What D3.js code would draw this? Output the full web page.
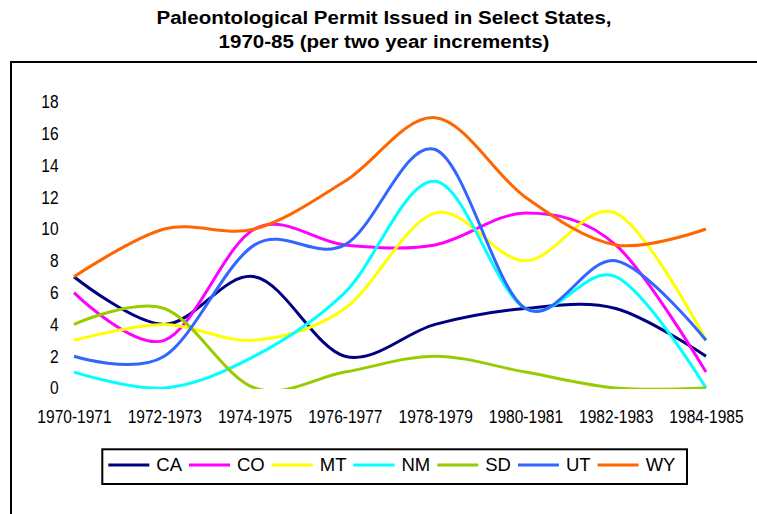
<!DOCTYPE html>
<html>
<head>
<meta charset="utf-8">
<script src="https://cdn.jsdelivr.net/npm/d3@7"></script>
<style>
  body { margin: 0; background: #fff; }
  svg { display: block; font-family: "Liberation Sans", Arial, sans-serif; }
</style>
</head>
<body>
<div id="chart"></div>
<script>
// Data
const periods = ["1970-1971", "1972-1973", "1974-1975", "1976-1977", "1978-1979", "1980-1981", "1982-1983", "1984-1985"];
const states = ["CA", "CO", "MT", "NM", "SD", "UT", "WY"];
const CA = [7, 4, 7, 2, 4, 5, 5, 2];
const CO = [6, 3, 10, 9, 9, 11, 9, 1];
const MT = [3, 4, 3, 5, 11, 8, 11, 3];
const NM = [1, 0, 2, 6, 13, 5, 7, 0];
const SD = [4, 5, 0, 1, 2, 1, 0, 0];
const UT = [2, 2, 9, 9, 15, 5, 8, 3];
const WY = [7, 10, 10, 13, 17, 12, 9, 10];
const yTicks = [0, 2, 4, 6, 8, 10, 12, 14, 16, 18];
const colors = ["#000080", "#FF00FF", "#FFFF00", "#00FFFF", "#99CC00", "#3366FF", "#FF6600"];

const seriesValues = [CA, CO, MT, NM, SD, UT, WY];
const series = states.map((s, i) => ({ name: s, color: colors[i], values: seriesValues[i] }));

const width = 757, height = 514;
const fontSize = 18.5;
const squeeze = "scale(0.84,1)"; // the digits in the picture are narrow

const svg = d3.select("#chart").append("svg")
    .attr("width", width)
    .attr("height", height);

// chart area frame (runs off the right and bottom edge)
svg.append("rect")
    .attr("x", 11).attr("y", 62)
    .attr("width", 800).attr("height", 500)
    .attr("fill", "#fff")
    .attr("stroke", "#000")
    .attr("stroke-width", 2);

// title, a little wider than the font gives
const title = svg.append("text")
    .attr("transform", "translate(384,0) scale(1.11,1)")
    .attr("text-anchor", "middle")
    .attr("font-weight", "bold")
    .attr("font-size", fontSize + "px");
title.append("tspan").attr("x", 0).attr("y", 24).text("Paleontological Permit Issued in Select States,");
title.append("tspan").attr("x", 0).attr("y", 48.3).text("1970-85 (per two year increments)");

const x = d3.scalePoint()
    .domain(periods)
    .range([74, 706]);

const y = d3.scaleLinear()
    .domain([0, 18])
    .range([388, 388 - 18 * 15.9]);

// axes without lines
const yAxis = svg.append("g")
    .attr("transform", "translate(62,0)")
    .call(d3.axisLeft(y).tickValues(yTicks).tickSize(0).tickPadding(4));

const xAxis = svg.append("g")
    .attr("transform", `translate(0,${y(0)})`)
    .call(d3.axisBottom(x).tickSize(0).tickPadding(21.6));

[yAxis, xAxis].forEach(ax => {
    ax.select(".domain").remove();
    ax.attr("font-family", null).attr("font-size", null);
    ax.selectAll("text")
        .attr("fill", "#000")
        .style("font-size", fontSize + "px")
        .attr("transform", squeeze);
});

// clip lines at the bottom of the plot area
svg.append("clipPath").attr("id", "plot-clip")
    .append("rect")
    .attr("x", 0).attr("y", 0)
    .attr("width", width).attr("height", y(0) + 1);

const line = d3.line()
    .x((d, i) => x(periods[i]))
    .y(d => y(d))
    .curve(d3.curveCardinal.tension(0));

svg.append("g")
    .attr("clip-path", "url(#plot-clip)")
    .selectAll("path")
    .data(series)
    .join("path")
    .attr("fill", "none")
    .attr("stroke", d => d.color)
    .attr("stroke-width", 3)
    .attr("stroke-linejoin", "round")
    .attr("d", d => line(d.values));

// legend
const legend = svg.append("g");
const legendBox = legend.append("rect")
    .attr("fill", "#fff")
    .attr("stroke", "#000")
    .attr("stroke-width", 2);

let lx = 108.3;
const ly = 465;
series.forEach(s => {
    legend.append("line")
        .attr("x1", lx).attr("x2", lx + 41)
        .attr("y1", ly).attr("y2", ly)
        .attr("stroke", s.color)
        .attr("stroke-width", 3);
    const t = legend.append("text")
        .attr("x", lx + 48)
        .attr("y", 471)
        .attr("font-size", fontSize + "px")
        .text(s.name);
    lx += 48 + t.node().getComputedTextLength() + 7;
});
legendBox
    .attr("x", 102.3).attr("y", 449.3)
    .attr("width", 687 - 102.3)
    .attr("height", 34.7);
</script>
</body>
</html>
